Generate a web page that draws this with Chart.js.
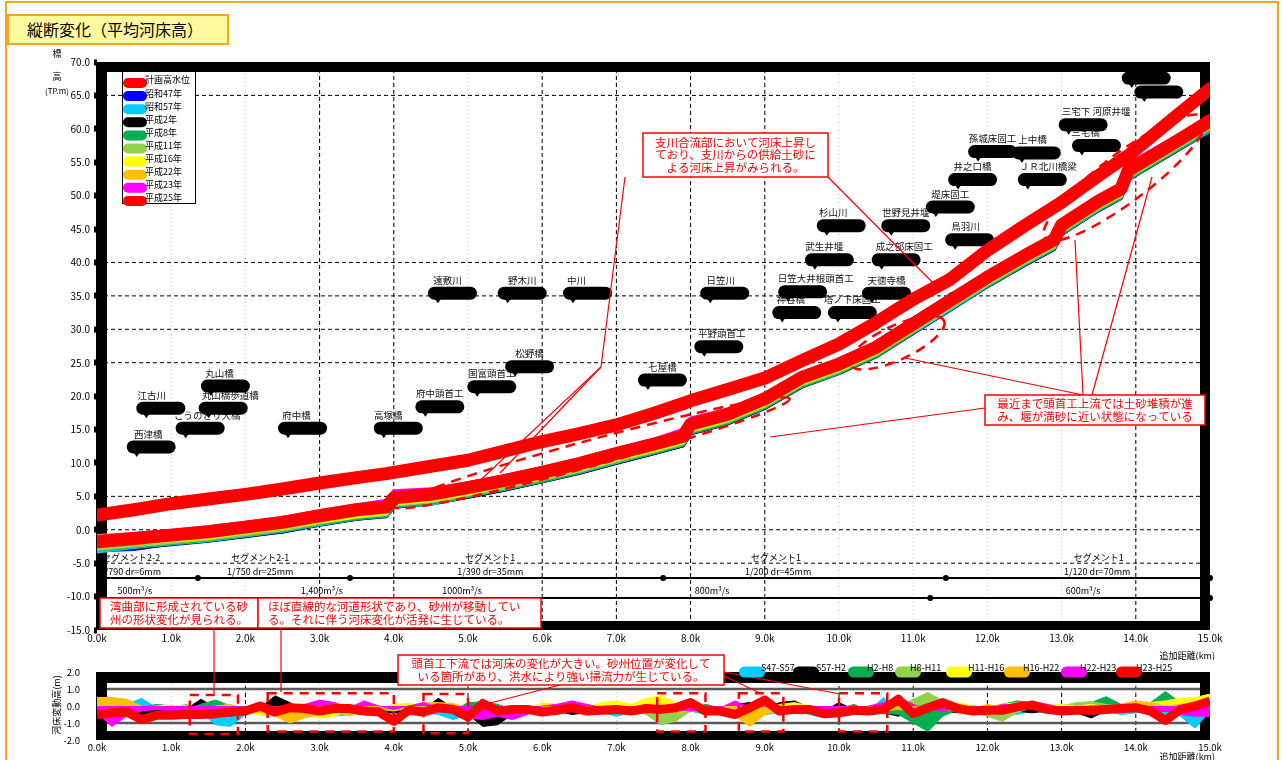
<!DOCTYPE html>
<html lang="ja">
<head>
<meta charset="utf-8">
<script src="https://cdn.jsdelivr.net/npm/chart.js@4.4.1/dist/chart.umd.min.js"></script>
<style>
  body { margin: 0; background: #fff; }
  #page { position: relative; width: 1282px; height: 760px; overflow: hidden; font-family: 'Noto Sans CJK JP', sans-serif; }
  #frame { position: absolute; left: 5px; top: 1px; width: 1274px; height: 800px; border: 2px solid #f8a51c; box-sizing: border-box; }
  #title { position: absolute; left: 7px; top: 14px; width: 222px; height: 31px; box-sizing: border-box; background: #fffa9e; border: 2px solid #f8a51c; font-size: 16px; line-height: 27px; padding-left: 18px; color: #000; }
  canvas { position: absolute; left: 0; }
  #mainChart { top: 0; }
  #diffChart { top: 590px; }
</style>
</head>
<body>
<div id="page">
  <div id="frame"></div>
  <div id="title">縦断変化（平均河床高）</div>
  <canvas id="mainChart" width="1282" height="660"></canvas>
  <canvas id="diffChart" width="1282" height="170"></canvas>
</div>
<script>
const FONT = "'Noto Sans CJK JP', sans-serif";
Chart.defaults.font.family = FONT;

// ---- 縦断図 (平均河床高) ----
const kmPts = [0, 0.5, 1, 1.5, 2, 2.5, 3, 3.5, 3.9, 4.0, 4.5, 5, 5.5, 6, 6.5, 7, 7.5, 7.9, 8.0, 8.5, 9, 9.5, 10, 10.5, 11, 11.5, 12, 12.5, 12.9, 13.0, 13.5, 13.8, 13.9, 14.5, 15];
const hwl    = [2.2, 3.0, 3.9, 4.6, 5.3, 6.1, 7.0, 7.8, 8.4, 8.6, 9.5, 10.4, 11.8, 13.2, 14.4, 15.7, 17.4, 18.9, 19.3, 21.0, 22.7, 25.3, 27.8, 31.0, 34.5, 37.5, 41.8, 45.5, 48.3, 49.0, 53.0, 55.3, 56.0, 61.5, 66.0];
const bedS47 = [-3.1, -2.9, -2.1, -1.6, -0.9, -0.3, 0.8, 1.6, 2.1, 3.4, 3.9, 4.9, 6.0, 7.2, 8.5, 10.0, 11.4, 12.6, 14.4, 15.9, 18.2, 21.4, 23.9, 28.1, 31.6, 35.1, 36.4, 39.6, 42.0, 44.2, 47.8, 49.6, 52.4, 56.4, 59.6];
const bedS57 = [-3.3, -2.6, -2.1, -1.6, -0.9, -0.2, 0.8, 1.7, 2.1, 3.5, 3.8, 5.0, 6.1, 7.3, 8.6, 10.1, 11.5, 12.7, 14.5, 16.0, 18.3, 21.5, 23.5, 26.0, 29.5, 33.0, 36.5, 39.7, 42.1, 44.3, 47.9, 49.7, 52.5, 56.5, 59.7];
const bedH2  = [-3.2, -2.7, -2.2, -1.7, -1.0, -0.3, 0.7, 1.6, 2.0, 3.4, 3.9, 4.9, 6.0, 7.2, 8.5, 10.0, 11.4, 12.6, 14.4, 15.9, 18.2, 21.4, 23.4, 25.9, 29.4, 32.9, 36.4, 39.6, 42.0, 44.2, 47.8, 49.6, 52.4, 56.4, 59.8];
const bedH8  = [-3.0, -2.5, -2.0, -1.5, -0.8, -0.1, 0.9, 1.7, 2.2, 3.6, 4.0, 5.0, 6.2, 7.3, 8.7, 10.2, 11.5, 12.8, 14.5, 16.0, 18.3, 21.5, 23.6, 26.0, 29.6, 35.3, 36.6, 39.8, 42.2, 44.3, 48.0, 49.7, 52.5, 56.5, 59.9];
const bedH11 = [-2.9, -2.4, -1.9, -1.4, -0.7, 0.0, 1.0, 1.9, 2.3, 3.7, 4.2, 5.2, 6.3, 7.5, 8.8, 10.3, 11.7, 12.9, 14.7, 16.2, 18.5, 21.7, 23.7, 26.2, 29.7, 33.2, 36.7, 39.9, 42.3, 44.5, 48.1, 49.9, 52.7, 56.7, 60.1];
const bedH16 = [-2.4, -2.0, -1.6, -1.2, -0.4, 0.3, 1.2, 2.0, 2.5, 3.9, 4.4, 5.4, 6.6, 7.8, 9.0, 10.5, 11.9, 13.1, 14.9, 16.4, 18.7, 21.9, 23.9, 26.4, 29.9, 33.5, 36.9, 40.1, 42.5, 44.7, 48.3, 50.1, 53.6, 58.4, 61.8];
const bedH22 = [-0.9, -0.6, -0.5, -0.1, 0.6, 1.3, 2.3, 3.1, 3.6, 5.0, 5.5, 6.5, 7.6, 8.8, 10.1, 11.6, 13.0, 14.2, 16.0, 17.5, 19.8, 23.0, 25.0, 27.5, 31.0, 34.5, 38.0, 41.2, 43.6, 45.8, 49.4, 51.2, 54.0, 58.3, 61.5];
const bedH23 = [-1.0, -0.6, -0.1, 0.4, 1.1, 1.8, 2.8, 3.7, 4.4, 5.8, 6.1, 7.0, 8.1, 9.3, 10.6, 12.1, 13.5, 15.0, 16.7, 18.0, 20.3, 23.5, 25.5, 28.0, 31.5, 35.0, 38.5, 41.7, 44.1, 46.3, 49.9, 51.8, 54.8, 58.6, 61.9];
const bedH25 = [-1.8, -1.3, -0.8, -0.3, 0.4, 1.1, 2.1, 3.0, 3.4, 4.8, 5.3, 6.3, 7.4, 8.6, 9.9, 11.4, 12.8, 14.0, 15.8, 17.3, 19.6, 22.8, 24.8, 27.3, 30.8, 34.3, 37.8, 41.0, 43.4, 45.6, 49.2, 51.0, 53.8, 57.8, 61.2];

const bedNames  = ['計画高水位', '昭和47年', '昭和57年', '平成2年', '平成8年', '平成11年', '平成16年', '平成22年', '平成23年', '平成25年'];
const bedColors = ['#ff0000', '#0000ff', '#00ccff', '#000000', '#00b050', '#92d050', '#ffff00', '#ffc000', '#ff00ff', '#ff0000'];
const bedSeries = [hwl, bedS47, bedS57, bedH2, bedH8, bedH11, bedH16, bedH22, bedH23, bedH25];

// 構造物名 [名称, 距離km, 標高, 文字ずれpx]
const structures = [
  ['西津橋', 0.40, 12.4, -3], ['江古川', 0.53, 18.2, -9], ['こうのとり大橋', 1.06, 15.2, 7],
  ['丸山橋', 1.40, 21.5, -6], ['丸山橋歩道橋', 1.37, 18.2, 7], ['府中橋', 2.44, 15.2, -6],
  ['高塚橋', 3.73, 15.2, -10], ['府中頭首工', 4.29, 18.4, 0], ['国富頭首工', 4.99, 21.4, 0],
  ['松野橋', 5.50, 24.4, 0], ['遠敷川', 4.46, 35.4, -5], ['野木川', 5.40, 35.4, 0],
  ['中川', 6.28, 35.4, -11], ['七屋橋', 7.29, 22.4, 0], ['日笠川', 8.13, 35.4, -4],
  ['平野頭首工', 8.05, 27.4, 3], ['神谷橋', 9.10, 32.5, -6], ['日笠大井根頭首工', 9.18, 35.6, 13],
  ['塔ノ下床固工', 9.85, 32.5, 0], ['天徳寺橋', 10.31, 35.4, 0], ['武生井堰', 9.54, 40.4, -5],
  ['成之部床固工', 10.44, 40.4, 8], ['杉山川', 9.70, 45.5, -8], ['世野見井堰', 10.57, 45.5, 0],
  ['堤床固工', 11.17, 48.3, 0], ['鳥羽川', 11.43, 43.4, -4], ['井之口橋', 11.47, 52.4, 0],
  ['孫城床固工', 11.74, 56.6, 0], ['上中橋', 12.33, 56.4, -4], ['ＪＲ北川橋梁', 12.41, 52.4, 6],
  ['三宅下 河原井堰', 12.96, 60.6, 13], ['三宅橋', 13.14, 57.5, -11], ['', 13.81, 67.6, 0], ['', 13.98, 65.5, 0]
];

// セグメント情報 [文字, 中心km]
const segNames  = [['セグメント2-2', 0.46], ['セグメント2-1', 2.2], ['セグメント1', 5.3], ['セグメント1', 9.15], ['セグメント1', 13.5]];
const segSlopes = [['1/790 dr=6mm', 0.45], ['1/750 dr=25mm', 2.2], ['1/390 dr=35mm', 5.3], ['1/200 dr=45mm', 9.18], ['1/120 dr=70mm', 13.48]];
const segFlows  = [['500m³/s', 0.51], ['1,400m³/s', 3.03], ['1000m³/s', 4.92], ['800m³/s', 8.29], ['600m³/s', 13.29]];
const segDotsUpper = [1.36, 3.41, 7.63, 11.44, 15];
const segDotsLower = [11.23, 15];

// ---- 河床変動高 ----
const diffKm = [0, 0.2, 0.4, 0.6, 0.8, 1.0, 1.2, 1.4, 1.6, 1.8, 2.0, 2.2, 2.4, 2.6, 2.8, 3.0, 3.2, 3.4, 3.6, 3.8,
  4.0, 4.2, 4.4, 4.6, 4.8, 5.0, 5.2, 5.4, 5.6, 5.8, 6.0, 6.2, 6.4, 6.6, 6.8, 7.0, 7.2, 7.4, 7.6, 7.8,
  8.0, 8.2, 8.4, 8.6, 8.8, 9.0, 9.2, 9.4, 9.6, 9.8, 10.0, 10.2, 10.4, 10.6, 10.8, 11.0, 11.2, 11.4, 11.6, 11.8,
  12.0, 12.2, 12.4, 12.6, 12.8, 13.0, 13.2, 13.4, 13.6, 13.8, 14.0, 14.2, 14.4, 14.6, 14.8, 15.0];
const dS47S57 = [-0.3, -0.2, 0.1, 0.45, -0.1, -0.3, -0.5, -0.4, -1.1, -1.2,
  -0.5, -0.3, -0.4, -0.6, -0.4, -0.3, -0.6, -0.5, -0.4, -0.3,
  -0.6, -0.3, -0.4, -0.5, -0.8, -0.5, -0.3, -0.4, -0.5, -0.3,
  -0.3, -0.4, -0.3, -0.5, -0.4, -0.6, -0.4, -0.3, -0.2, -0.4,
  -0.3, -0.5, -0.4, -0.3, -0.2, -0.5, -0.4, -0.3, -0.5, -0.7,
  -0.6, -0.5, -0.3, 0.5, -0.4, -0.3, -0.4, -0.5, -0.3, -0.4,
  -0.3, -0.4, -0.5, -0.3, -0.4, -0.5, -0.3, -0.4, -0.3, -0.5,
  -0.4, -0.3, -0.5, -0.6, -1.3, -0.3];
const dS57H2 = [-0.6, -0.4, -0.3, -0.5, -0.4, -0.3, -0.2, 0.4, -0.1, -0.6,
  -0.2, -0.1, 0.6, 0.2, -0.3, -0.4, -0.3, -0.4, -0.5, -0.3,
  -0.4, -0.3, -0.2, 0.45, -0.1, -0.5, -1.2, -1.1, -0.5, -0.4,
  -0.4, -0.3, -0.5, -0.4, -0.3, -0.4, -0.3, -0.2, -0.4, -0.3,
  -0.2, -0.3, -0.3, 0.1, 0.2, -0.2, 0.2, 0.3, -0.1, -0.3,
  0.2, -0.2, -0.3, -0.4, -0.6, -0.3, -0.2, -0.3, -0.4, -0.2,
  -0.3, -0.2, -0.3, -0.4, -0.3, -0.2, -0.4, -0.7, -0.3, -0.2,
  -0.3, -0.4, -0.3, -0.2, -0.3, -0.4];
const dH2H8 = [0.0, 0.1, 0.0, -0.1, 0.1, 0.0, -0.2, 0.1, 0.35, 0.0,
  -0.2, -0.5, -0.6, -0.3, -0.2, -0.4, -0.3, -0.2, -0.3, -0.2,
  -0.2, -0.3, -0.2, -0.1, -0.3, 0.2, 0.25, 0.1, -0.2, -0.3,
  -0.2, -0.3, -0.1, -0.2, -0.3, -0.2, -0.1, -0.3, -0.2, -0.1,
  -0.2, 0.1, -0.1, -0.2, 0.0, -0.3, -0.2, -0.1, -0.2, -0.3,
  -0.2, 0.1, -0.3, -0.4, -0.5, -1.0, -1.5, -0.6, -0.2, 0.0,
  -0.1, 0.1, 0.3, 0.2, -0.1, 0.1, 0.0, 0.2, 0.55, 0.1,
  0.0, 0.2, 0.85, 0.2, 0.1, 0.0];
const dH8H11 = [-0.3, -0.2, -0.1, 0.0, -0.2, -0.1, 0.1, -0.2, -0.1, 0.0,
  -0.1, -0.2, -0.3, -0.2, -0.1, -0.2, -0.1, -0.3, -0.2, -0.1,
  -0.2, -0.1, -0.2, -0.3, -0.1, -0.2, -0.1, -0.3, -0.2, -0.1,
  -0.2, -0.1, -0.3, -0.2, -0.1, -0.2, -0.3, -0.5, -1.1, -0.9,
  -0.3, -0.1, -0.2, -0.3, -0.1, -0.2, -0.3, -0.2, -0.1, -0.2,
  -0.2, -0.3, -0.1, 0.2, 0.0, 0.4, 0.8, 0.3, 0.1, -0.4,
  -0.6, -0.9, -0.4, -0.1, 0.1, 0.0, 0.2, 0.25, 0.1, 0.0,
  -0.1, 0.0, 0.1, -0.1, 0.0, 0.1];
const dH11H16 = [0.2, 0.1, 0.0, -0.1, 0.0, 0.05, 0.0, -0.2, -0.1, -0.3,
  -0.4, -0.5, -0.6, -0.3, -0.5, -0.7, -0.6, -0.3, -0.2, -0.1,
  0.1, 0.15, 0.0, -0.2, -0.3, -0.2, -0.1, -0.3, -0.4, -0.2,
  0.2, 0.1, 0.0, -0.1, 0.2, 0.3, 0.1, 0.45, 0.6, 0.2,
  -0.1, -0.2, -0.1, -0.3, -0.4, -0.2, 0.1, 0.2, 0.0, -0.1,
  -0.2, -0.3, 0.0, 0.1, 0.2, 0.0, -0.2, 0.1, 0.2, 0.0,
  -0.1, 0.1, 0.2, 0.1, 0.0, 0.1, 0.0, 0.1, -0.1, 0.0,
  0.1, 0.2, 0.3, 0.45, 0.5, 0.7];
const dH16H22 = [0.5, 0.5, 0.4, 0.0, -0.1, 0.0, -0.1, -0.2, 0.0, 0.1,
  -0.2, -0.4, -0.6, -1.0, -0.7, -0.5, -0.3, -0.6, -0.3, -0.2,
  -0.3, -0.1, 0.2, 0.2, 0.15, -0.1, -0.3, -0.2, -0.4, -0.3,
  -0.2, -0.3, -0.1, -0.2, -0.3, -0.1, -0.2, -0.3, -0.2, -0.4,
  -0.3, -0.2, -0.3, -0.6, -1.2, -0.5, -0.3, -0.2, -0.3, -0.2,
  -0.3, -0.2, -0.1, -0.3, -0.2, -0.3, -0.1, -0.2, -0.3, -0.2,
  0.1, -0.1, -0.2, -0.1, 0.0, -0.2, -0.1, 0.0, -0.1, 0.1,
  0.3, 0.2, 0.0, 0.1, 0.2, 0.3];
const dH22H23 = [-0.4, -1.2, -0.6, -0.3, -0.2, -0.3, -0.2, -0.7, -0.4, -0.3,
  -0.2, 0.0, -0.1, -0.3, 0.1, 0.35, 0.2, -0.1, 0.3, 0.0,
  -0.2, 0.0, 0.2, -0.1, -0.4, -0.7, -0.8, -0.6, -0.8, -0.5,
  0.0, 0.1, 0.3, 0.1, -0.1, -0.2, -0.1, -0.4, -0.3, -0.2,
  -0.3, -0.2, -0.1, 0.3, -0.1, 0.0, -0.3, -0.2, -0.1, -0.2,
  -0.3, -0.2, 0.0, 0.2, 0.5, 0.1, -0.2, -0.3, -0.1, 0.0,
  -0.2, 0.1, 0.0, 0.3, 0.1, -0.1, -0.2, 0.0, -0.1, 0.0,
  -0.2, -0.4, -0.3, -0.5, -0.6, -0.6];
const dH23H25 = [-0.5, -0.4, -0.35, -0.8, -0.55, -0.55, -0.5, -0.5, -0.45, -0.35,
  -0.3, 0.0, -0.35, -0.1, -0.15, -0.3, -0.15, -0.15, -0.3, -0.35,
  -0.9, -0.25, -0.35, -0.1, -0.2, -0.65, 0.15, -0.3, -0.2, -0.2,
  -0.35, -0.25, -0.1, -0.3, -0.25, -0.2, -0.3, -0.15, -0.2, -0.1,
  0.2, -0.3, -0.3, -0.5, -0.1, 0.35, -0.3, -0.2, -0.2, -0.45,
  -0.4, -0.25, -0.3, -0.2, 0.4, -0.45, -0.1, 0.2, -0.15, -0.3,
  -0.25, -0.25, -0.05, 0.05, -0.2, -0.3, -0.25, -0.25, -0.2, -0.15,
  -0.1, -0.3, -0.85, -0.2, 0.0, 0.3];

const diffNames  = ['S47-S57', 'S57-H2', 'H2-H8', 'H8-H11', 'H11-H16', 'H16-H22', 'H22-H23', 'H23-H25'];
const diffColors = ['#00ccff', '#000000', '#00b050', '#92d050', '#ffff00', '#ffc000', '#ff00ff', '#ff0000'];
const diffSeries = [dS47S57, dS57H2, dH2H8, dH8H11, dH11H16, dH16H22, dH22H23, dH23H25];

// 赤点線の囲み [km左, km右, 上, 下]
const diffBoxes = [[1.25, 1.9, 0.65, -1.65], [2.3, 4.0, 0.75, -1.5], [4.4, 5.0, 0.7, -1.6],
  [7.55, 8.2, 0.75, -1.5], [8.65, 9.25, 0.75, -1.5], [10.0, 10.65, 0.75, -1.5]];

// ---- helpers ----
function rr(ctx, x, y, w, h, r) {
  ctx.beginPath();
  ctx.moveTo(x + r, y);
  ctx.arcTo(x + w, y, x + w, y + h, r);
  ctx.arcTo(x + w, y + h, x, y + h, r);
  ctx.arcTo(x, y + h, x, y, r);
  ctx.arcTo(x, y, x + w, y, r);
  ctx.closePath();
}
function txt(ctx, s, x, y, size, color, align) {
  ctx.font = size + 'px ' + FONT;
  ctx.fillStyle = color;
  ctx.textAlign = align || 'center';
  ctx.textBaseline = 'middle';
  ctx.fillText(s, x, y);
}
function seg(ctx, x1, y1, x2, y2, color, w, dash) {
  ctx.beginPath();
  ctx.setLineDash(dash || []);
  ctx.strokeStyle = color;
  ctx.lineWidth = w;
  ctx.moveTo(x1, y1);
  ctx.lineTo(x2, y2);
  ctx.stroke();
  ctx.setLineDash([]);
}
function poly(ctx, pts, off) {
  ctx.beginPath();
  ctx.strokeStyle = '#ff0000';
  ctx.lineWidth = 1.2;
  pts.forEach((p, i) => i ? ctx.lineTo(p[0], p[1] - off) : ctx.moveTo(p[0], p[1] - off));
  ctx.stroke();
}
function callout(ctx, c, off) {
  const y = c.y - off;
  ctx.fillStyle = '#fff';
  ctx.fillRect(c.x, y, c.w, c.h);
  ctx.strokeStyle = '#ff0000';
  ctx.lineWidth = 1.5;
  ctx.strokeRect(c.x, y, c.w, c.h);
  const lh = 12.5;
  const y0 = y + c.h / 2 - (c.lines.length - 1) * lh / 2;
  c.lines.forEach((s, i) => {
    if (c.left) txt(ctx, s, c.x + c.left, y0 + i * lh, 11.5, '#ff0000', 'left');
    else txt(ctx, s, c.x + c.w / 2, y0 + i * lh, 11.5, '#ff0000', 'center');
  });
}
function frame(ctx, a, top, bottom) {
  ctx.fillStyle = '#000';
  ctx.fillRect(a.left, a.top, a.width, top);
  ctx.fillRect(a.left, a.bottom - bottom, a.width, bottom);
  ctx.fillRect(a.left - 1, a.top, 11, a.height);
  ctx.fillRect(a.right - 10, a.top, 10, a.height);
}

// ---- 縦断図 注記 ----
const mainCallouts = [
  { x: 643, y: 133, w: 185, h: 44, lines: ['支川合流部において河床上昇し', 'ており、支川からの供給土砂に', 'よる河床上昇がみられる。'] },
  { x: 985, y: 395, w: 220, h: 30, lines: ['最近まで頭首工上流では土砂堆積が進', 'み、堰が満砂に近い状態になっている'] }
];
const mainLeaders = [
  [[625, 177], [601, 367], [470, 490]], [[601, 367], [500, 473]], [[828, 177], [940, 290]],
  [[1083, 395], [905, 358]], [[985, 408], [770, 437]], [[1083, 395], [1075, 240]], [[1092, 395], [1152, 177]]
];
// 点線の楕円 [中心km, 中心標高, 半径x, 半径y, 角度]
const mainRings = [[6.67, 11.5, 205, 13, -15.3], [10.78, 28.0, 52, 17, -25], [13.85, 52.7, 100, 24, -37]];

const mainDeco = {
  id: 'mainDeco',
  beforeDatasetsDraw(chart) {
    const ctx = chart.ctx, a = chart.chartArea, X = chart.scales.x, Y = chart.scales.y;
    ctx.save();
    for (let k = 1; k < 15; k++) seg(ctx, X.getPixelForValue(k), a.top, X.getPixelForValue(k), a.bottom, '#c4c4c4', 1, [1, 3]);
    [3, 4, 6, 7, 8, 9, 14].forEach(k => seg(ctx, X.getPixelForValue(k), a.top, X.getPixelForValue(k), a.bottom, '#000', 1, [4, 3]));
    [65, 40, 35, 30, 25, 5, 0, -5].forEach(v => seg(ctx, a.left, Y.getPixelForValue(v), a.right, Y.getPixelForValue(v), '#000', 1, [4, 3]));
    // セグメント区分線
    const yU = Y.getPixelForValue(-7.2), yL = Y.getPixelForValue(-10.2);
    seg(ctx, a.left, yU, a.right, yU, '#000', 2);
    seg(ctx, a.left, yL, a.right, yL, '#000', 2);
    ctx.fillStyle = '#000';
    segDotsUpper.forEach(k => { ctx.beginPath(); ctx.arc(X.getPixelForValue(k), yU, 3, 0, Math.PI * 2); ctx.fill(); });
    segDotsLower.forEach(k => { ctx.beginPath(); ctx.arc(X.getPixelForValue(k), yL, 3, 0, Math.PI * 2); ctx.fill(); });
    frame(ctx, a, 10, 9);
    segNames.forEach(([s, k]) => txt(ctx, s, X.getPixelForValue(k), Y.getPixelForValue(-4.1), 9, '#000'));
    segSlopes.forEach(([s, k]) => txt(ctx, s, X.getPixelForValue(k), Y.getPixelForValue(-6.2), 9, '#000'));
    segFlows.forEach(([s, k]) => txt(ctx, s, X.getPixelForValue(k), Y.getPixelForValue(-9.1), 9, '#000'));
    // 構造物
    structures.forEach(([name, k, v, dx]) => {
      const x = X.getPixelForValue(k), y = Y.getPixelForValue(v);
      ctx.fillStyle = '#000';
      rr(ctx, x, y - 6.5, 49, 13, 6.5);
      ctx.fill();
      ctx.beginPath();
      ctx.moveTo(x + 6, y + 4); ctx.lineTo(x + 10, y + 10); ctx.lineTo(x + 14, y + 4);
      ctx.fill();
      if (name) txt(ctx, name, x + 24.5 + dx, y - 13, 9.5, '#111');
    });
    ctx.restore();
  },
  afterDatasetsDraw(chart) {
    const ctx = chart.ctx, X = chart.scales.x, Y = chart.scales.y;
    ctx.save();
    mainRings.forEach(([k, v, rx, ry, ang]) => {
      ctx.beginPath();
      ctx.setLineDash([10, 7]);
      ctx.strokeStyle = '#ff0000';
      ctx.lineWidth = 2.5;
      ctx.ellipse(X.getPixelForValue(k), Y.getPixelForValue(v), rx, ry, ang * Math.PI / 180, 0, Math.PI * 2);
      ctx.stroke();
      ctx.setLineDash([]);
    });
    mainLeaders.forEach(p => poly(ctx, p, 0));
    mainCallouts.forEach(c => callout(ctx, c, 0));
    // 凡例
    ctx.fillStyle = '#fff';
    ctx.fillRect(122, 71, 73, 132);
    ctx.strokeStyle = '#000';
    ctx.lineWidth = 1;
    ctx.strokeRect(122.5, 71.5, 73, 132);
    bedNames.forEach((n, i) => {
      const cy = 83 + i * 13.1;
      ctx.fillStyle = bedColors[i];
      rr(ctx, 123, cy - 5, 24, 10, 5);
      ctx.fill();
      txt(ctx, n, 145, cy - 3, 9, '#000', 'left');
    });
    // 軸タイトル
    txt(ctx, '標', 57, 54, 9, '#000');
    txt(ctx, '高', 57, 77, 9, '#000');
    txt(ctx, '(TP.m)', 57, 91, 8, '#000');
    txt(ctx, '追加距離(km)', 1215, 656, 9, '#000', 'right');
    ctx.restore();
  }
};

const bedOrder = [2, 10, 8, 9, 7, 6, 5, 4, 3, 1];
new Chart(document.getElementById('mainChart'), {
  type: 'line',
  data: {
    datasets: bedSeries.map((vals, i) => ({
      label: bedNames[i],
      data: kmPts.map((k, j) => ({ x: k, y: vals[j] })),
      borderColor: bedColors[i],
      borderWidth: (i === 0 || i === 9) ? 13 : 3.5,
      borderCapStyle: 'round',
      borderJoinStyle: 'round',
      pointRadius: 0,
      fill: false,
      tension: 0,
      order: bedOrder[i]
    }))
  },
  options: {
    responsive: false,
    animation: false,
    layout: { padding: { left: 0, right: 72, top: 62, bottom: 0 } },
    plugins: { legend: { display: false }, tooltip: { enabled: false } },
    scales: {
      x: {
        type: 'linear', min: 0, max: 15,
        afterFit: s => { s.height = 30; },
        grid: { display: false, drawTicks: false },
        border: { display: false },
        ticks: { stepSize: 1, autoSkip: false, maxRotation: 0, padding: 2, color: '#000', font: { size: 10 }, callback: v => v.toFixed(1) + 'k' }
      },
      y: {
        min: -15, max: 70,
        afterFit: s => { s.width = 97; },
        grid: { display: true, drawOnChartArea: false, drawTicks: true, tickLength: 3, tickWidth: 6, tickColor: '#000' },
        border: { display: false },
        ticks: { stepSize: 5, padding: 4, color: '#000', font: { size: 10 }, callback: v => v.toFixed(1) }
      }
    }
  },
  plugins: [mainDeco]
});

// ---- 河床変動高 注記 ----
const diffCallouts = [
  { x: 100, y: 598, w: 158, h: 30, left: 10, lines: ['湾曲部に形成されている砂', '州の形状変化が見られる。'] },
  { x: 258, y: 598, w: 283, h: 30, left: 10, lines: ['ほぼ直線的な河道形状であり、砂州が移動してい', 'る。それに伴う河床変化が活発に生じている。'] },
  { x: 398, y: 655, w: 326, h: 30, lines: ['頭首工下流では河床の変化が大きい。砂州位置が変化して', 'いる箇所があり、洪水により強い掃流力が生じている。'] }
];
const diffLeaders = [
  [[214, 628], [214, 694]], [[281, 628], [281, 692]], [[724, 672], [840, 694]], [[724, 676], [762, 694]], [[560, 685], [490, 703]]
];
const diffLegendX = [752, 806, 861, 908, 959, 1017, 1074, 1129];
const diffLegendTextX = [761, 816, 867, 910, 968, 1023, 1080, 1136];
const OFF = 590;

const diffDeco = {
  id: 'diffDeco',
  beforeDatasetsDraw(chart) {
    const ctx = chart.ctx, a = chart.chartArea, X = chart.scales.x, Y = chart.scales.y;
    ctx.save();
    for (let k = 1; k < 15; k++) seg(ctx, X.getPixelForValue(k), a.top, X.getPixelForValue(k), a.bottom, '#c4c4c4', 1, [1, 3]);
    [2, 5, 10, 11, 12, 13, 14].forEach(k => seg(ctx, X.getPixelForValue(k), a.top, X.getPixelForValue(k), a.bottom, '#000', 1, [4, 3]));
    [1, -1].forEach(v => seg(ctx, a.left, Y.getPixelForValue(v), a.right, Y.getPixelForValue(v), '#5a5a5a', 2.5));
    frame(ctx, a, 11, 9);
    ctx.restore();
  },
  afterDatasetsDraw(chart) {
    const ctx = chart.ctx, X = chart.scales.x, Y = chart.scales.y;
    ctx.save();
    diffBoxes.forEach(([k1, k2, t, b]) => {
      ctx.setLineDash([9, 7]);
      ctx.strokeStyle = '#ff0000';
      ctx.lineWidth = 2.5;
      const x1 = X.getPixelForValue(k1), x2 = X.getPixelForValue(k2);
      const y1 = Y.getPixelForValue(t), y2 = Y.getPixelForValue(b);
      ctx.strokeRect(x1, y1, x2 - x1, y2 - y1);
      ctx.setLineDash([]);
    });
    diffLeaders.forEach(p => poly(ctx, p, OFF));
    diffCallouts.forEach(c => callout(ctx, c, OFF));
    // 凡例
    diffNames.forEach((n, i) => {
      ctx.fillStyle = diffColors[i];
      rr(ctx, diffLegendX[i] - 13, 672 - OFF - 5.5, 26, 11, 5.5);
      ctx.fill();
    });
    diffNames.forEach((n, i) => txt(ctx, n, diffLegendTextX[i], 668 - OFF, 9, '#000', 'left'));
    ctx.translate(57, 705 - OFF);
    ctx.rotate(-Math.PI / 2);
    txt(ctx, '河床変動高(m)', 0, 0, 9, '#000');
    ctx.setTransform(1, 0, 0, 1, 0, 0);
    txt(ctx, '追加距離(km)', 1215, 757 - OFF, 9, '#000', 'right');
    ctx.restore();
  }
};

new Chart(document.getElementById('diffChart'), {
  type: 'line',
  data: {
    datasets: diffSeries.map((vals, i) => {
      const last = i === diffSeries.length - 1;
      return {
        label: diffNames[i],
        data: diffKm.map((k, j) => ({ x: k, y: vals[j] })),
        borderColor: diffColors[i],
        backgroundColor: diffColors[i],
        borderWidth: last ? 9 : 1,
        borderJoinStyle: 'round',
        pointRadius: 0,
        fill: last ? false : 'origin',
        tension: 0,
        order: diffSeries.length - i
      };
    })
  },
  options: {
    responsive: false,
    animation: false,
    layout: { padding: { left: 0, right: 72, top: 82, bottom: 0 } },
    plugins: { legend: { display: false }, tooltip: { enabled: false } },
    scales: {
      x: {
        type: 'linear', min: 0, max: 15,
        afterFit: s => { s.height = 20; },
        grid: { display: false, drawTicks: false },
        border: { display: false },
        ticks: { stepSize: 1, autoSkip: false, maxRotation: 0, padding: 2, color: '#000', font: { size: 9.5 }, callback: v => v.toFixed(1) + 'k' }
      },
      y: {
        min: -2, max: 2,
        afterFit: s => { s.width = 97; },
        grid: { display: false },
        border: { display: false },
        ticks: { stepSize: 1, padding: 9, color: '#000', font: { size: 9.5 }, callback: v => v.toFixed(1) }
      }
    }
  },
  plugins: [diffDeco]
});
</script>
</body>
</html>
